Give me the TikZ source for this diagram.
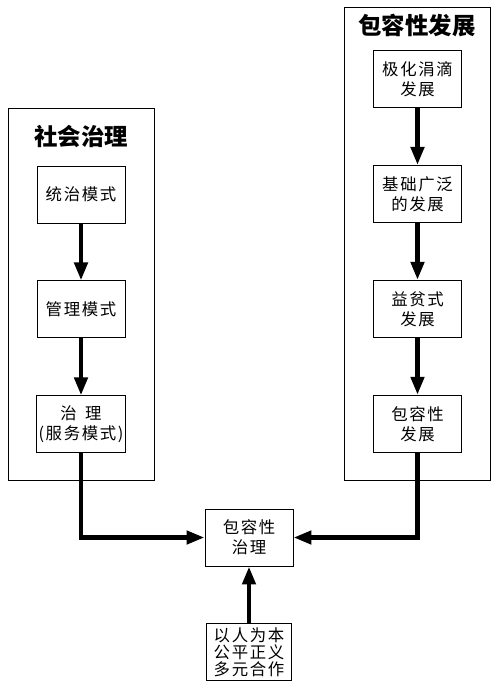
\documentclass[tikz,border=0pt]{standalone}
\usepackage{fontspec}
\setmainfont{Noto Sans CJK SC}
\newfontfamily\boxfont[LetterSpace=10]{Noto Sans CJK SC}
\usetikzlibrary{arrows.meta, positioning}

\begin{document}
\begin{tikzpicture}[
    x=0.03cm, y=-0.03cm,
    node distance=1.71cm,
    >={Triangle[length=5.4mm, width=3.9mm]},
    frame/.style={draw, line width=0.8pt, minimum width=4.38cm},
    title/.style={font=\bfseries\fontsize{20}{24}\selectfont},
    box/.style={draw, line width=0.8pt, minimum width=2.64cm, minimum height=1.71cm, align=center, inner sep=2pt, font=\boxfont\fontsize{14}{17}\selectfont},
    flow/.style={->, line width=3.8pt}
  ]
    \useasboundingbox (0,0) rectangle (499,688);

    \node[frame, minimum height=11.16cm] (govframe) at (81,294) {};
    \node[frame, minimum height=14.19cm] (devframe) at (417,243.5) {};
    \node[title] (govtitle) at (81,136) {社会治理};
    \node[title] (devtitle) at (417,26) {包容性发展};

    \node[box] (gov1) at (81,194.5) {统治模式};
    \node[box, below=of gov1] (gov2) {管理模式};
    \node[box, below=of gov2] (gov3) {治\enspace 理\\(服务模式)};

    \node[box] (dev1) at (417.5,79) {极化涓滴\\发展};
    \node[box, below=of dev1] (dev2) {基础广泛\\的发展};
    \node[box, below=of dev2] (dev3) {益贫式\\发展};
    \node[box, below=of dev3] (dev4) {包容性\\发展};

    \node[box] (incl) at (249,537.5) {包容性\\治理};
    \node[box, below=of incl, minimum width=2.55cm, font=\boxfont\fontsize{14}{14.5}\selectfont] (base) {以人为本\\公平正义\\多元合作};

    \draw[flow] (gov1) -- (gov2);
    \draw[flow] (gov2) -- (gov3);
    \draw[flow] (dev1) -- (dev2);
    \draw[flow] (dev2) -- (dev3);
    \draw[flow] (dev3) -- (dev4);
    \draw[flow] (gov3.south) |- (incl.west);
    \draw[flow] (dev4.south) |- (incl.east);
    \draw[flow] (base) -- (incl);
  \end{tikzpicture}
\end{document}
